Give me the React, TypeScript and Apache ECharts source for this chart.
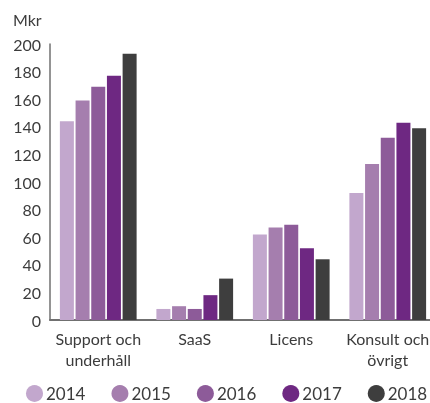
import React, { useEffect, useRef } from "react";
import * as echarts from "echarts";

const categories = ["Support och\nunderhåll", "SaaS", "Licens", "Konsult och\növrigt"];
const years = ["2014", "2015", "2016", "2017", "2018"];
const values2014 = [144, 8, 62, 92];
const values2015 = [159, 10, 67, 113];
const values2016 = [169, 8, 69, 132];
const values2017 = [177, 18, 52, 143];
const values2018 = [193, 30, 44, 139];
const colors = ["#c2a7cd", "#a57eae", "#8d5b99", "#6e2882", "#3e3e3e"];
const yTicks = { min: 0, max: 200, interval: 20 };

const FONT = "Lato";
const TEXT = "#3c3c3c";

export default function App() {
  const ref = useRef<HTMLDivElement>(null);
  useEffect(() => {
    if (!ref.current) return;
    document.body.style.overflow = "hidden";
    const chart = echarts.init(ref.current, undefined, { renderer: "svg" });
    const all = [values2014, values2015, values2016, values2017, values2018];
    chart.setOption({
      animation: false,
      textStyle: { fontFamily: FONT },
      grid: { left: 50, top: 44, bottom: 83, width: 386 },
      graphic: [
        {
          type: "text",
          left: 13,
          top: 11,
          style: { text: "Mkr", fontSize: 16, fill: TEXT, fontFamily: FONT },
        },
      ],
      legend: {
        left: 26,
        top: 385,
        padding: 0,
        icon: "circle",
        itemWidth: 17,
        itemHeight: 17,
        itemGap: 26,
        textStyle: {
          fontSize: 17,
          lineHeight: 15,
          color: TEXT,
          fontFamily: FONT,
          padding: [0, 0, 0, -2],
        },
        data: years,
      },
      xAxis: {
        type: "category",
        data: categories,
        axisLine: { lineStyle: { color: "#707070", width: 2 } },
        axisTick: { show: false },
        axisLabel: { color: TEXT, fontSize: 16, lineHeight: 21, margin: 8, interval: 0, fontFamily: FONT },
      },
      yAxis: {
        type: "value",
        min: yTicks.min,
        max: yTicks.max,
        interval: yTicks.interval,
        axisLine: { show: true, lineStyle: { color: "#707070", width: 1.5 } },
        axisTick: { show: false },
        splitLine: { show: false },
        axisLabel: { color: TEXT, fontSize: 16, margin: 9, fontFamily: FONT },
      },
      series: years.map((y, i) => ({
        name: y,
        type: "bar",
        data: all[i],
        barWidth: 14,
        barGap: "12%",
        itemStyle: { color: colors[i] },
      })),
    });
    return () => chart.dispose();
  }, []);
  return (
    <div
      ref={ref}
      style={{ position: "fixed", left: 0, top: 0, width: 440, height: 403 }}
    />
  );
}
